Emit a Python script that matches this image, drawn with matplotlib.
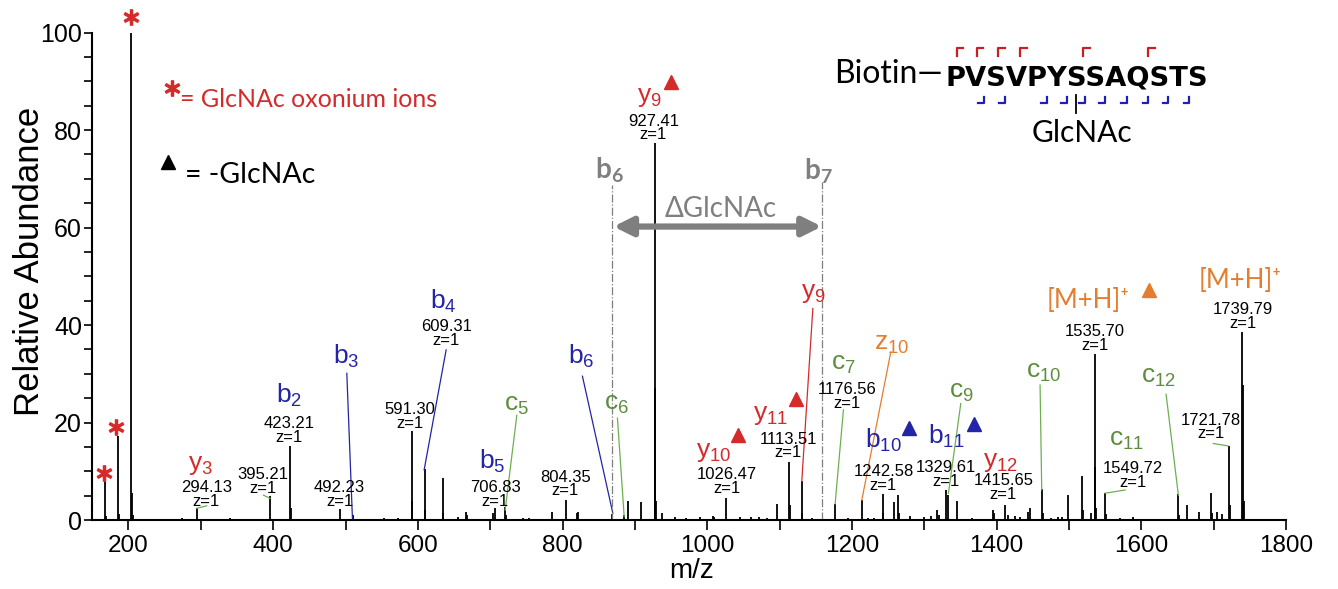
import matplotlib.pyplot as plt

plt.rcParams['font.family'] = ['Liberation Sans', 'DejaVu Sans']
plt.rcParams['mathtext.fontset'] = 'custom'
plt.rcParams['mathtext.rm'] = 'Lato'
plt.rcParams['mathtext.it'] = 'Lato:italic'
plt.rcParams['mathtext.bf'] = 'Lato:bold'

# peaks of the spectrum: m/z and relative abundance
mz = [168.07, 169.1, 186.08, 187.1, 204.09, 205.09, 206.1, 274, 294.13, 340,
      395.21, 423.21, 424.2, 492.23, 510.2, 553, 572, 591.30, 592.3, 609.31,
      610.3, 634.3, 635.3, 656, 666, 668, 704, 706.83, 720.3, 722, 745, 754,
      785, 804.35, 820, 822, 868, 885, 891, 908.4, 927.41, 928.4, 929.4, 938,
      956, 970, 990, 1008, 1010, 1026.47, 1045, 1060, 1072, 1082, 1096,
      1113.51, 1114.5, 1130.5, 1131.5, 1145, 1176.56, 1195, 1213.6, 1222, 1230,
      1242.58, 1243.6, 1258, 1264, 1265, 1280, 1300, 1310, 1317, 1320, 1329.61,
      1333.4, 1345.8, 1366, 1394.7, 1397, 1412, 1415.65, 1425, 1432, 1443, 1446,
      1462.4, 1464, 1475, 1485, 1490, 1499, 1517.6, 1519, 1530, 1535.70, 1536.7,
      1537.7, 1549.72, 1551, 1570, 1589, 1651, 1652, 1663, 1680, 1696.5, 1698,
      1704, 1712, 1721.78, 1722.8, 1739.79, 1740.8, 1741.8]
ab = [8.2, 0.8, 17.2, 1.2, 100, 5.6, 1.0, 0.4, 2.4, 0.4,
      4.9, 15.2, 2.4, 2.2, 1.0, 0.5, 0.4, 18.3, 4.0, 10.4,
      2.0, 8.7, 1.5, 0.6, 1.7, 1.0, 1.5, 2.4, 2.7, 1.0, 0.5, 0.5,
      1.7, 4.2, 1.5, 1.6, 1.2, 1.0, 3.9, 3.6, 77.3, 27, 4, 1.4,
      0.6, 0.5, 0.7, 0.9, 0.6, 4.6, 0.6, 0.6, 0.6, 0.5, 3.2,
      12, 3, 8.0, 1.5, 0.5, 3.3, 0.5, 4.2, 0.5, 0.5,
      5.3, 1.5, 3.8, 5.1, 1.5, 0.8, 0.6, 0.8, 2.0, 1.0, 6.2,
      5.1, 4.0, 0.5, 2.0, 1.4, 3.1, 1.0, 0.8, 0.6, 1.6, 2.4,
      6.3, 1.5, 0.5, 0.6, 0.7, 5.2, 9.1, 2.0, 1.5, 34, 10.9,
      2.5, 5.5, 1.2, 0.5, 0.7, 5.3, 1.0, 3.1, 1.7, 5.5, 1.5,
      1.7, 1.2, 15.2, 3, 38.6, 27.7, 4]

RED = '#d42a2a'
BLUE = '#2424a8'
GREEN = '#5f8d3f'
LGREEN = '#6db050'
ORANGE = '#e47d2f'
GRAY = '#7f7f7f'

# fragment ion labels
ions = ['y3', 'b2', 'b3', 'b4', 'b5', 'c5', 'b6', 'c6', 'y9', 'y10', 'y11', 'y9',
        'c7', 'z10', 'b10', 'c9', 'b11', 'y12', 'c10', 'c11', 'c12']
ion_x = [299.4, 421.4, 500.9, 635.4, 702.2, 736.8, 825.3, 875, 920.5, 1008.8,
         1086.9, 1146.8, 1188.3, 1255.1, 1243.6, 1351.9, 1331.1, 1406,
         1464.7, 1580, 1623.6]
ion_y = [11.3, 25.6, 33.5, 44.8, 12.0, 23.6, 33.5, 23.8, 86.8, 14.0,
         21.5, 46.5, 32.1, 36.2, 16.4, 26.3, 17.1, 12.0, 30.4, 16.4, 29.4]
ion_col = {'b': BLUE, 'y': RED, 'c': GREEN, 'z': ORANGE}

# precursor labels
mh_x = [1526.9, 1736.5]
mh_y = [45.1, 49.1]

# m/z value labels
num_text = ['294.13', '395.21', '423.21', '492.23', '591.30', '609.31', '706.83',
            '804.35', '927.41', '1026.47', '1113.51', '1176.56', '1242.58',
            '1329.61', '1415.65', '1535.70', '1549.72', '1721.78', '1739.79']
num_x = [307.4, 385.8, 421.4, 491.7, 589.4, 639.1, 706.9, 803.6, 925.6, 1027.1,
         1112.2, 1193, 1243.6, 1330.2, 1409.4, 1536.1, 1588.2, 1696, 1741.1]
num_y = [5.2, 7.9, 18.3, 5.2, 21.3, 38.2, 5.3, 7.4, 80.4, 7.9,
         15.2, 25.4, 8.55, 9.4, 6.6, 37.3, 9.2, 19.1, 41.7]

# leader lines: x0, y0, x1, y1, colour
leaders = [(294.5, 2.4, 308, 2.9, LGREEN), (386.6, 5.1, 395.8, 4.45, LGREEN),
           (501.8, 30.1, 509.6, 0.2, BLUE), (639.1, 34.9, 608.7, 10.3, BLUE),
           (736.8, 21.5, 720.7, 2.05, LGREEN), (827.5, 29.5, 869.5, 1.4, BLUE),
           (875.9, 20.9, 885.2, 0.7, LGREEN), (1146, 43.4, 1130.7, 7.9, RED),
           (1188.3, 22.6, 1176.8, 3.3, LGREEN), (1253.8, 34.5, 1213.7, 4.1, ORANGE),
           (1350.5, 23.9, 1333.4, 5.5, LGREEN), (1460.1, 27.7, 1462.4, 6.2, LGREEN),
           (1577.6, 6.15, 1550, 5.5, LGREEN), (1634.3, 25.8, 1651.3, 5.1, LGREEN),
           (1699.6, 15.7, 1720, 15.2, LGREEN)]

# -GlcNAc triangles
tri_x = [950.1, 1043.1, 1122.5, 1279.5, 1368.9, 1610.8]
tri_y = [89.9, 17.4, 24.8, 18.8, 19.7, 47.2]
tri_c = [RED, RED, RED, BLUE, BLUE, ORANGE]

# oxonium ion stars
star_x = [203.8, 183, 165.5]
star_y = [103.2, 19.1, 9.7]

# peptide sequence cleavage marks
seq = 'PVSVPYSSAQSTS'
red_cuts = [1345.0, 1372.6, 1402.5, 1432.5, 1520, 1609.8]
blue_cuts = [1382.7, 1411.8, 1469.4, 1497.0, 1522.3, 1550.0, 1580.0, 1609.8,
             1637.5, 1666.5]

fig = plt.figure(figsize=(13.38, 5.89), dpi=100)
ax = fig.add_axes([0.069, 0.1171, 0.8921, 0.8277])

ax.vlines(mz, 0, ab, color='black', lw=1.3)

ax.set_xlim(150, 1800)
ax.set_ylim(0, 100)
ax.spines['top'].set_visible(False)
ax.spines['right'].set_visible(False)
ax.spines['left'].set_linewidth(1.5)
ax.spines['bottom'].set_linewidth(1.5)
ax.set_xticks(range(200, 1801, 200))
ax.set_xticks(range(300, 1800, 200), minor=True)
ax.set_yticks(range(0, 101, 20))
ax.set_yticks(range(0, 101, 5), minor=True)
ax.tick_params(axis='x', which='both', direction='out', length=7, width=1.2,
               labelsize=17.5, pad=4)
ax.tick_params(axis='y', which='both', direction='out', length=5.5, width=1.2,
               labelsize=18, pad=2)
ax.set_ylabel('Relative Abundance', fontsize=25, va='center')
ax.yaxis.set_label_coords(-0.053, 0.53)
ax.set_xlabel('m/z', fontsize=20, va='center')
ax.xaxis.set_label_coords(0.502, -0.105)

lato = ['Lato', 'DejaVu Sans']

for name, x, y in zip(ions, ion_x, ion_y):
    ax.text(x, y, r'$\mathregular{%s_{%s}}$' % (name[0], name[1:]), color=ion_col[name[0]],
            fontsize=19, ha='center', va='center')

for x, y in zip(mh_x, mh_y):
    ax.text(x, y, '[M+H]⁺', color=ORANGE, family=lato, fontsize=18.5,
            ha='center', va='center')

for t, x, y in zip(num_text, num_x, num_y):
    ax.text(x, y, t + '\nz=1', fontsize=12, ha='center', va='center',
            linespacing=0.9)

for x0, y0, x1, y1, c in leaders:
    ax.plot([x0, x1], [y0, y1], color=c, lw=0.9)

for x, y, c in zip(tri_x, tri_y, tri_c):
    ax.plot(x, y, marker='^', ms=9.5, color=c, clip_on=False)

ax.plot(star_x, star_y, ls='none', marker=r'$*$', ms=11, color=RED, clip_on=False)

# legend notes
ax.plot(260, 88.6, marker=r'$*$', ms=11, color=RED)
ax.text(271.5, 86.2, '= GlcNAc oxonium ions', color=RED, family=lato,
        fontsize=18, va='center')
ax.plot(255.3, 73.5, marker='^', ms=10.5, color='black')
ax.text(278.4, 70.8, '= -GlcNAc', color='black', family=lato, fontsize=20.5,
        va='center')

# b6 / b7 delta GlcNAc
for x, top, lab, lx, ly in [(868.1, 68.7, '6', 864.8, 71.8), (1158.4, 69.4, '7', 1153.7, 71.5)]:
    ax.plot([x, x], [0, top], color=GRAY, lw=0.9, ls='-.')
    ax.text(lx, ly, r'$\mathbf{b_{%s}}$' % lab, color=GRAY, fontsize=20,
            ha='center', va='center')
ax.annotate('', xy=(870.4, 60.2), xytext=(1158.4, 60.2),
            arrowprops=dict(arrowstyle='<|-|>', color=GRAY, lw=4.5,
                            mutation_scale=28, shrinkA=0, shrinkB=0))
ax.text(1018.9, 63.7, 'ΔGlcNAc', color=GRAY, family=lato, fontsize=20,
        ha='center', va='center')

# peptide sequence
ax.text(1326, 89.6, 'Biotin—', family=lato, fontsize=23, ha='right', va='baseline')
ax.text(1328.8, 89.2, seq, family='DejaVu Sans', weight='bold', fontsize=19.7,
        ha='left', va='baseline')
for x in red_cuts:
    ax.plot([x, x, x + 9.2], [95.2, 96.8, 96.8], color='#c82020', lw=1.6,
            clip_on=False)
for x in blue_cuts:
    ax.plot([x - 7.8, x, x], [85.5, 85.5, 86.8], color='#2020b0', lw=1.6,
            clip_on=False)
ax.plot([1509.5, 1509.5], [87.2, 83.5], color='black', lw=1.3)
ax.text(1517.5, 77.6, 'GlcNAc', family=lato, fontsize=21.5, ha='center',
        va='baseline')

fig.savefig('out.png', dpi=100)
